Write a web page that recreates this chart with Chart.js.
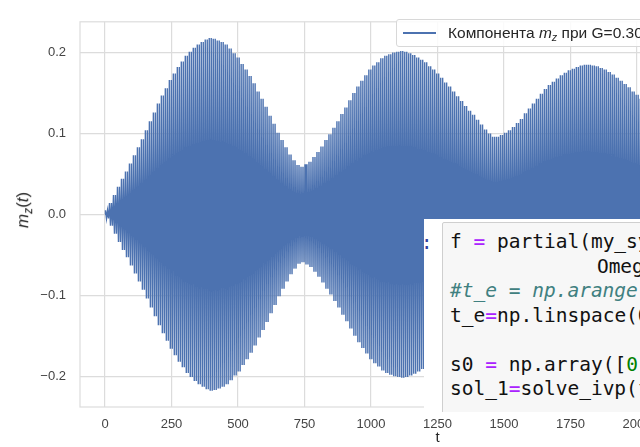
<!DOCTYPE html>
<html>
<head>
<meta charset="utf-8">
<script src="https://cdn.jsdelivr.net/npm/chart.js@4.4.0/dist/chart.umd.min.js"></script>
<style>
  body { margin: 0; width: 640px; height: 447px; overflow: hidden; position: relative; background: #fff; }
  #wrap { position: absolute; left: 0; top: 0; width: 800px; height: 447px; }
  #ylab { position: absolute; left: 24px; top: 210px; transform: translate(-50%, -50%) rotate(-90deg);
          font: 17px "Liberation Sans", Arial, sans-serif; color: #262626; white-space: nowrap; }
  #ylab sub, #legend sub { font-size: 70%; vertical-align: -0.3em; }
  #legend { position: absolute; left: 396px; top: 19px; width: 300px; height: 28px; box-sizing: border-box;
            border: 1px solid #d8d8d8; border-radius: 3px; background: rgba(255,255,255,0.85);
            font: 15.5px "Liberation Sans", Arial, sans-serif; color: #262626; white-space: nowrap; }
  #legend .swatch { position: absolute; left: 6px; top: 12px; width: 33px; height: 2px; background: #4c72b0; }
  #legend .txt { position: absolute; left: 51px; top: 4px; }
  #cell { position: absolute; left: 424px; top: 219px; width: 216px; height: 193px; background: #fff; overflow: hidden; }
  #cell .prompt { position: absolute; left: -3px; top: 12px; font: 19px "DejaVu Sans Mono", monospace; color: #303f9f; }
  #cell .code { position: absolute; left: 18px; top: 3px; width: 400px; height: 230px; box-sizing: border-box;
                border: 1px solid #cfcfcf; border-radius: 2px; background: #f7f7f7; padding: 7px 0 0 7px;
                font: 19.5px/24.5px "DejaVu Sans Mono", monospace; color: #111; white-space: pre; }
  .sp { display: inline-block; width: 6px; }
  .op { color: #aa22ff; }
  .cm { color: #408080; font-style: italic; }
  .nm { color: #008000; }
</style>
</head>
<body>
<div id="wrap"><canvas id="chart" width="800" height="447"></canvas></div>
<div id="ylab"><i>m</i><sub><i>z</i></sub>(<i>t</i>)</div>
<div id="legend"><div class="swatch"></div><div class="txt">Компонента <i>m</i><sub><i>z</i></sub> при G=0.30</div></div>
<div id="cell">
<div class="prompt">:</div>
<div class="code">f <span class="op">=</span> partial(my_system,
            <span class="sp"></span>Omega<span class="op">=</span>Omega, G<span class="op">=</span>G)
<span class="cm">#t_e = np.arange(0, 2500, 0.5)</span>
t_e<span class="op">=</span>np.linspace(0, 2500, 5000)

s0 <span class="op">=</span> np.array([<span class="nm">0</span>, 0, 1])
sol_1<span class="op">=</span>solve_ivp(f, [0, 2500], s0)</div>
</div>
<script>
// the envelope is read in blocks of blockLen time units,
// each block holds a few fast oscillations of the same height
var blockLen = 15;
var wavesPerBlock = 2;
// amplitude of each block
var blockAmp = [
  0.005, 0.014, 0.024, 0.034, 0.044, 0.053, 0.063, 0.073, 0.083, 0.093,
  0.104, 0.115, 0.126, 0.137, 0.147, 0.156, 0.166, 0.174, 0.182, 0.189,
  0.196, 0.201, 0.206, 0.210, 0.213, 0.216, 0.218, 0.217, 0.215, 0.213,
  0.210, 0.205, 0.199, 0.194, 0.186, 0.179, 0.171, 0.162, 0.152, 0.143,
  0.133, 0.122, 0.112, 0.101, 0.092, 0.083, 0.074, 0.067, 0.061, 0.059,
  0.062, 0.065, 0.071, 0.077, 0.084, 0.092, 0.099, 0.107, 0.115, 0.124,
  0.132, 0.141, 0.150, 0.158, 0.165, 0.172, 0.179, 0.184, 0.188, 0.193,
  0.196, 0.198, 0.200, 0.201, 0.202, 0.201, 0.199, 0.197, 0.194, 0.191,
  0.188, 0.183, 0.179, 0.174, 0.169, 0.163, 0.158, 0.152, 0.146, 0.140,
  0.134, 0.128, 0.123, 0.117, 0.111, 0.105, 0.100, 0.096, 0.096, 0.098,
  0.101, 0.104, 0.108, 0.113, 0.118, 0.125, 0.131, 0.137, 0.143, 0.149,
  0.155, 0.160, 0.164, 0.168, 0.172, 0.175, 0.178, 0.180, 0.182, 0.184,
  0.185, 0.185, 0.184, 0.183, 0.181, 0.179, 0.176, 0.173, 0.169, 0.165,
  0.161, 0.157, 0.152, 0.148, 0.143, 0.138, 0.133, 0.128, 0.123, 0.118
];
var xTicks = [0, 250, 500, 750, 1000, 1250, 1500, 1750, 2000];
var yTicks = [-0.2, -0.1, 0.0, 0.1, 0.2];
var xRange = [-94, 2594];
var yRange = [-0.238, 0.238];

var points = [{x: 0, y: 0}];
var half = blockLen / (2 * wavesPerBlock);
for (var i = 0; i < blockAmp.length; i++) {
  for (var k = 0; k < 2 * wavesPerBlock; k++) {
    points.push({x: i * blockLen + (k + 0.5) * half, y: (k % 2 == 0 ? 1 : -1) * blockAmp[i]});
  }
}

var gridColor = '#dcdcdc';
var tickFont = {family: '"Liberation Sans", Arial, sans-serif', size: 13};

var framePlugin = {
  id: 'frame',
  beforeDatasetsDraw: function(chart) {
    var a = chart.chartArea, ctx = chart.ctx;
    ctx.save();
    ctx.strokeStyle = gridColor;
    ctx.lineWidth = 1.2;
    ctx.strokeRect(a.left, a.top, a.right - a.left, a.bottom - a.top);
    ctx.restore();
  }
};

new Chart(document.getElementById('chart').getContext('2d'), {
  type: 'line',
  data: {
    datasets: [{
      label: 'Компонента m_z при G=0.30',
      data: points,
      borderColor: '#4c72b0',
      borderWidth: 1.4,
      pointRadius: 0,
      tension: 0,
      fill: false
    }]
  },
  options: {
    responsive: false,
    animation: false,
    events: [],
    layout: {padding: {top: 14, right: 5, left: 0, bottom: 0}},
    plugins: {legend: {display: false}, tooltip: {enabled: false}},
    scales: {
      x: {
        type: 'linear',
        min: xRange[0], max: xRange[1],
        afterFit: function(s) { s.height = 40; },
        afterBuildTicks: function(s) { s.ticks = xTicks.map(function(v) { return {value: v}; }); },
        grid: {color: gridColor, lineWidth: 1.2, drawTicks: false},
        border: {display: false},
        ticks: {padding: 10, color: '#444', font: tickFont, maxRotation: 0,
                callback: function(v) { return String(v); }},
        title: {display: true, text: 't', color: '#262626',
                font: {family: '"Liberation Sans", Arial, sans-serif', size: 15}, padding: {top: 0, bottom: 0}}
      },
      y: {
        min: yRange[0], max: yRange[1],
        afterFit: function(s) { s.width = 80; },
        afterBuildTicks: function(s) { s.ticks = yTicks.map(function(v) { return {value: v}; }); },
        grid: {color: gridColor, lineWidth: 1.2, drawTicks: false},
        border: {display: false},
        ticks: {padding: 14, color: '#444', font: tickFont,
                callback: function(v) { return v.toFixed(1).replace('-', '\u2212'); }}
      }
    }
  },
  plugins: [framePlugin]
});
</script>
</body>
</html>
